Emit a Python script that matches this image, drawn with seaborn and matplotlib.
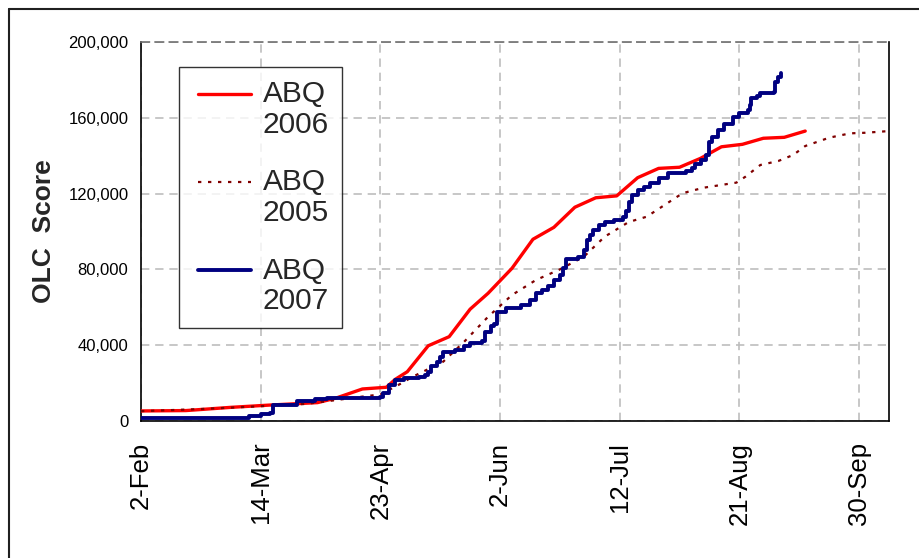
import matplotlib
matplotlib.use("Agg")
import matplotlib.pyplot as plt
from matplotlib.lines import Line2D
from matplotlib.legend_handler import HandlerLine2D
import seaborn as sns
import pandas as pd

# ---------------- data ----------------
days_2006 = [0, 15, 30, 43, 59, 65, 74, 82, 85, 89, 96, 103, 110, 116, 124, 131, 138, 145,
             152, 159, 166, 173, 180, 187, 194, 201, 208, 215, 222]
score_2006 = [5300, 5500, 7200, 8400, 9700, 12000, 16900, 17800, 22000, 26000, 39700, 44500,
              59000, 67400, 80600, 95900, 102200, 112800, 117800, 118800, 128400, 133300,
              133900, 138600, 144700, 146000, 149200, 149700, 153000]

days_2005 = [0, 20, 40, 55, 65, 72, 80, 86, 91, 101, 108, 116, 124, 132, 140, 148, 155, 163,
             169, 175, 181, 188, 199, 202, 207, 213, 218, 222, 230, 237, 242, 250]
score_2005 = [5200, 6300, 7800, 9000, 11000, 12500, 14000, 19000, 23500, 31300, 41800, 55000,
              66500, 74400, 80000, 86700, 97300, 105000, 107800, 114000, 120200, 123100,
              125800, 128900, 135100, 137200, 140400, 145100, 149500, 151800, 152100, 153000]

days_2007 = [0, 30, 36, 40, 43, 44, 52, 58, 62, 80, 81, 83, 85, 88, 93, 95, 96, 97, 99, 100,
             101, 105, 108, 110, 114, 115, 117, 118, 119, 122, 127, 130, 132, 134, 136, 138,
             140, 141, 142, 146, 148, 149, 150, 151, 153, 155, 158, 161, 162, 163, 164, 166,
             168, 170, 173, 176, 182, 184, 185, 187, 189, 190, 191, 193, 195, 198, 200, 203,
             203.5, 204, 206, 207, 211.5, 212, 213, 214]
score_2007 = [1800, 1800, 2500, 3800, 4300, 8400, 10500, 11600, 12200, 12800, 14600, 19000,
              21600, 22500, 23400, 24500, 26000, 29000, 31300, 34000, 36600, 37500, 39500,
              41000, 42000, 47000, 50000, 51000, 57700, 59500, 61200, 63900, 67500, 69000,
              71000, 74400, 77000, 81000, 85500, 86700, 90000, 95500, 98000, 101000, 103400,
              105000, 106100, 107800, 111000, 115700, 119000, 121900, 123500, 125400, 128100,
              130700, 131900, 133500, 135600, 137500, 140400, 147400, 150000, 153600, 156500,
              160600, 162500, 164100, 167000, 170300, 171500, 172900, 173400, 179000, 181500,
              183500]

tick_days = [0, 40, 80, 120, 160, 200, 240]
tick_labels = ["2-Feb", "14-Mar", "23-Apr", "2-Jun", "12-Jul", "21-Aug", "30-Sep"]
y_ticks = [0, 40000, 80000, 120000, 160000, 200000]
y_tick_labels = ["0", "40,000", "80,000", "120,000", "160,000", "200,000"]

# ---------------- style ----------------
sns.set_style("white")
plt.rcParams["font.family"] = ["Liberation Sans", "DejaVu Sans"]

W, H = 919, 558
fig = plt.figure(figsize=(W / 100, H / 100), dpi=100)
fig.patch.set_facecolor("white")
ax = fig.add_axes([141 / W, 1 - 421 / H, (889 - 141) / W, (421 - 42) / H])

df06 = pd.DataFrame({"day": days_2006, "score": score_2006})
df05 = pd.DataFrame({"day": days_2005, "score": score_2005})
df07 = pd.DataFrame({"day": days_2007, "score": score_2007})

sns.lineplot(data=df06, x="day", y="score", ax=ax, color="#ff0000", lw=2.4,
             estimator=None, sort=False, label="ABQ\n2006", zorder=3)
sns.lineplot(data=df05, x="day", y="score", ax=ax, color="#800000", lw=1.6,
             linestyle=(0, (1.5, 3)), estimator=None, sort=False, label="ABQ\n2005", zorder=3)
sns.lineplot(data=df07, x="day", y="score", ax=ax, color="#000080", lw=2.8,
             drawstyle="steps-post", estimator=None, sort=False, label="ABQ\n2007", zorder=4)

ax.set_xlim(0, 250)
ax.set_ylim(0, 200000)
ax.set_xticks(tick_days)
ax.set_xticklabels(tick_labels, rotation=90, fontsize=18.5)
ax.set_yticks(y_ticks)
ax.set_yticklabels(y_tick_labels, fontsize=12)
ax.set_xlabel("")
ax.set_ylabel("OLC  Score", fontsize=19, fontweight="bold", labelpad=9)

ax.grid(True, color="#bdbdbd", linestyle=(0, (5, 3.5)), linewidth=1.2)
ax.set_axisbelow(True)
ax.tick_params(axis="x", direction="out", length=6, width=1, pad=9, colors="black")
ax.tick_params(axis="y", direction="out", length=4, width=1, pad=5, colors="black")
for side in ["left", "bottom", "right"]:
    ax.spines[side].set_visible(True)
    ax.spines[side].set_color("black")
    ax.spines[side].set_linewidth(1.2)
ax.spines["top"].set_color("#707070")
ax.spines["top"].set_linestyle((0, (5, 3.5)))
ax.spines["top"].set_linewidth(1.2)


class UpHandler(HandlerLine2D):
    def create_artists(self, legend, orig_handle, xdescent, ydescent, width, height,
                       fontsize, trans):
        arts = super().create_artists(legend, orig_handle, xdescent, ydescent, width,
                                      height, fontsize, trans)
        for a in arts:
            a.set_ydata([v + 0.55 * fontsize for v in a.get_ydata()])
            a.set_xdata([v + 0.2 * fontsize for v in a.get_xdata()])
        return arts


handles, labels = ax.get_legend_handles_labels()
leg = ax.legend(handles, labels, loc="upper left",
                bbox_to_anchor=(179 / W, 1 - 67 / H), bbox_transform=fig.transFigure,
                borderaxespad=0, fontsize=21.5, frameon=True, fancybox=False, shadow=False,
                handlelength=1.75, handletextpad=0.6, labelspacing=1.0, borderpad=0.45,
                handler_map={Line2D: UpHandler()})
leg.get_frame().set_edgecolor("black")
leg.get_frame().set_linewidth(1.0)
for t in leg.get_texts():
    t.set_linespacing(1.1)

# chart-area border (left and top visible)
fig.add_artist(Line2D([8.5 / W, 8.5 / W], [0, 1 - 8.5 / H], transform=fig.transFigure,
                      color="#202020", lw=1.5))
fig.add_artist(Line2D([8.5 / W, 1], [1 - 8.5 / H, 1 - 8.5 / H], transform=fig.transFigure,
                      color="#202020", lw=1.5))

fig.savefig("out.png", dpi=100, facecolor="white")
